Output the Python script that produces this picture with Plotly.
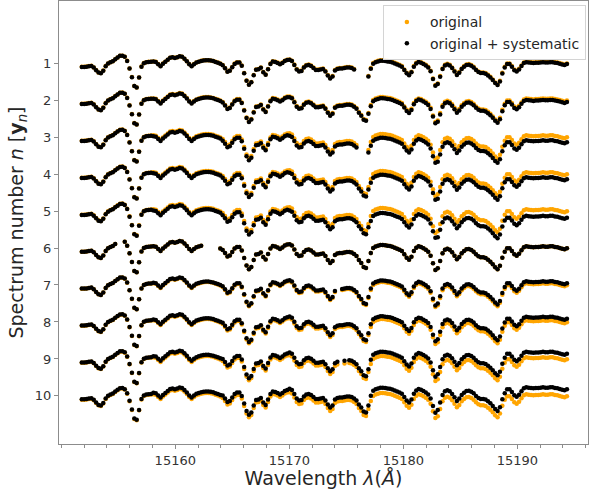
import numpy as np
import plotly.graph_objects as go

# Log-linear pixel grid of the spectra
LAMBDA_START = 15151.8
LOG_STEP = 6e-6

# Continuum-normalised flux of the original spectrum, one value per pixel
FLUX_ORIGINAL = [
    0.933, 0.933, 0.937, 0.946, 0.951, 0.923, 0.874, 0.832, 0.820, 0.865,
    0.946, 0.995, 1.018, 1.036, 1.072, 1.103, 1.132, 1.135, 1.114, 1.041,
    0.905, 0.748, 0.586, 0.562, 0.742, 0.937, 1.000, 1.018, 1.023, 1.027,
    1.031, 1.023, 0.982, 0.946, 0.991, 1.027, 1.063, 1.099, 1.108, 1.095,
    1.108, 1.126, 1.117, 1.081, 1.036, 0.982, 0.946, 0.982, 1.013, 1.027,
    1.041, 1.050, 1.054, 1.054, 1.049, 1.040, 1.023, 1.009, 0.991, 0.964,
    0.910, 0.847, 0.865, 0.928, 0.991, 1.018, 1.018, 0.955, 0.820, 0.685,
    0.616, 0.658, 0.784, 0.883, 0.892, 0.919, 0.838, 0.793, 0.892, 0.991,
    1.036, 1.027, 1.009, 0.982, 1.009, 1.045, 1.063, 1.067, 1.045, 0.973,
    0.892, 0.856, 0.865, 0.928, 0.964, 0.973, 0.955, 0.919, 0.883, 0.883,
    0.892, 0.901, 0.856, 0.784, 0.730, 0.766, 0.874, 0.901, 0.910, 0.910,
    0.919, 0.928, 0.928, 0.919, 0.892, 0.856, 0.784, 0.730, 0.658, 0.640,
    0.766, 0.910, 1.000, 1.027, 1.041, 1.054, 1.054, 1.049, 1.041, 1.036,
    1.023, 1.005, 0.987, 0.969, 0.946, 0.886, 0.825, 0.789, 0.843, 0.946,
    1.005, 1.031, 1.018, 0.995, 0.969, 0.933, 0.861, 0.724, 0.604, 0.634,
    0.766, 0.905, 0.969, 0.987, 0.969, 0.923, 0.861, 0.796, 0.838, 0.905,
    0.946, 0.977, 0.982, 0.964, 0.933, 0.886, 0.850, 0.832, 0.832, 0.820,
    0.789, 0.753, 0.706, 0.652, 0.616, 0.681, 0.825, 0.933, 0.995, 0.995,
    0.946, 0.886, 0.861, 0.897, 0.959, 1.013, 1.031, 1.023, 1.018, 1.013,
    1.018, 1.018, 1.023, 1.031, 1.023, 1.023, 1.031, 1.031, 1.018, 1.013,
    1.000, 0.987, 0.977, 0.995,
]

SPECTRUM_IDS = [1, 2, 3, 4, 5, 6, 7, 8, 9, 10]

# Flagged pixel ranges (inclusive) for each spectrum
MASKED_PIXELS = {
    1: [(115, 119)],
    3: [(116, 119)],
    6: [(15, 17), (51, 57)],
    7: [(107, 108)],
    9: [(108, 109), (111, 111)],
}

# Systematic: amplitude per spectrum times a weight per wavelength block
SYS_AMPLITUDE = [-0.013, -0.027, -0.090, -0.090, -0.117, 0.000, 0.036, 0.063, 0.099, 0.126]
SYS_BLOCK_EDGES = [15158, 15164, 15170, 15177, 15183, 15189]
SYS_BLOCK_WEIGHT = [0.05, 0.20, 0.35, 0.50, 0.75, 0.90, 1.00]

X_TICKS = [15160, 15170, 15180, 15190]

# vertical stretch of each spectrum inside its row
ROW_SCALE = 1.5

flux = np.array(FLUX_ORIGINAL)
wave = LAMBDA_START * 10 ** (LOG_STEP * np.arange(len(flux)))
weight = np.array(SYS_BLOCK_WEIGHT)[np.digitize(wave, SYS_BLOCK_EDGES)]

xs, y_orig, y_sys = [], [], []
for n, amp in zip(SPECTRUM_IDS, SYS_AMPLITUDE):
    keep = np.ones(len(flux), dtype=bool)
    for a, b in MASKED_PIXELS.get(n, []):
        keep[a:b + 1] = False
    f_sys = flux + amp * weight
    xs.append(wave[keep])
    y_orig.append(n + (1 - flux[keep]) * ROW_SCALE)
    y_sys.append(n + (1 - f_sys[keep]) * ROW_SCALE)

x_all = np.concatenate(xs)

fig = go.Figure()
fig.add_trace(go.Scatter(
    x=x_all, y=np.concatenate(y_orig), mode="markers", name="original",
    marker=dict(color="#FFA500", size=4.5, line=dict(width=0)),
))
fig.add_trace(go.Scatter(
    x=x_all, y=np.concatenate(y_sys), mode="markers", name="original + systematic",
    marker=dict(color="#000000", size=4.5, line=dict(width=0)),
))

axis_font = dict(family="DejaVu Sans", size=13, color="#333333")
fig.update_layout(
    width=596, height=489,
    margin=dict(l=59, r=8, t=1, b=45),
    paper_bgcolor="white", plot_bgcolor="white",
    font=dict(family="DejaVu Sans", color="#262626"),
    showlegend=True,
    legend=dict(
        x=0.996, y=0.99, xanchor="right", yanchor="top",
        bgcolor="rgba(255,255,255,0.85)", bordercolor="#d4d4d4", borderwidth=1,
        font=dict(family="DejaVu Sans", size=14, color="#262626"),
        itemwidth=36,
    ),
    xaxis=dict(
        range=[15149.8, 15196.2], tickvals=X_TICKS, ticktext=[str(v) for v in X_TICKS],
        ticks="outside", ticklen=4,
        tickcolor="#8c8c8c", tickfont=axis_font, showgrid=False, zeroline=False,
        showline=True, linecolor="#8c8c8c", linewidth=1, mirror=True,
        minor=dict(dtick=2, tick0=15150, ticks="outside", ticklen=3, tickcolor="#8c8c8c"),
        title=dict(text="Wavelength <i>λ</i>(<i>Å</i>)", standoff=4,
                   font=dict(family="DejaVu Sans", size=19, color="#262626")),
        automargin=False,
    ),
    yaxis=dict(
        range=[11.3, -0.68], tickvals=SPECTRUM_IDS, ticks="outside", ticklen=4,
        tickcolor="#8c8c8c", tickfont=axis_font, showgrid=False, zeroline=False,
        showline=True, linecolor="#8c8c8c", linewidth=1, mirror=True,
        title=dict(text="Spectrum number <i>n</i> [<b>y</b><sub><i>n</i></sub>]", standoff=6,
                   font=dict(family="DejaVu Sans", size=19, color="#262626")),
        automargin=False,
    ),
)

fig.write_html("out.html")
